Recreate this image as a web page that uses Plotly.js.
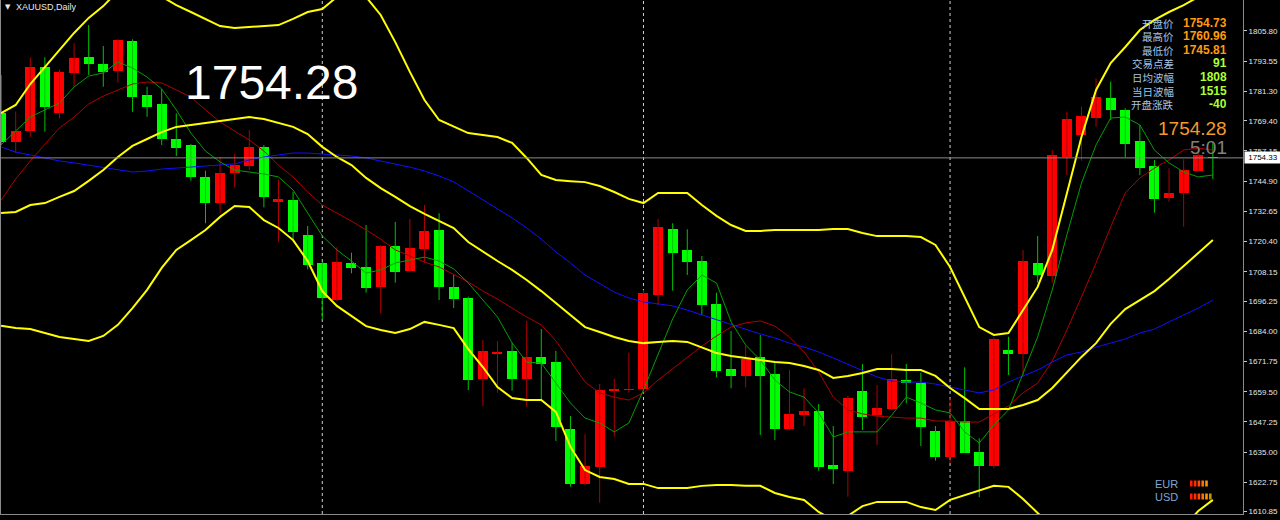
<!DOCTYPE html>
<html><head><meta charset="utf-8">
<script src="https://cdn.plot.ly/plotly-3.0.1.min.js"></script>
<style>html,body{margin:0;padding:0;background:#000;overflow:hidden}#chart{width:1280px;height:520px}</style>
</head><body><div id="chart"></div>
<script>
// ---- daily OHLC (XAUUSD) ----
const open = [1772.54,1760.90,1765.24,1791.32,1772.66,1788.88,1795.13,1792.41,1789.57,1801.74,
1779.84,1776.19,1761.87,1759.56,1746.70,1735.91,1748.08,1751.16,1758.87,1736.32,
1737.25,1723.05,1711.58,1696.69,1711.82,1709.95,1701.96,1718.59,1708.57,1717.38,
1725.08,1701.84,1697.50,1664.53,1674.91,1675.88,1664.53,1673.45,1671.54,1644.49,
1622.06,1629.08,1659.78,1660.19,1660.47,1698.84,1725.37,1716.97,1712.51,1695.07,
1668.58,1665.99,1673.45,1666.68,1644.25,1650.05,1651.79,1629.77,1627.45,1659.78,
1650.05,1652.60,1664.24,1663.15,1643.68,1632.89,1647.73,1635.16,1629.36,1676.41,
1674.79,1711.82,1706.42,1754.57,1763.61,1770.39,1778.74,1773.75,1761.18,1751.04,
1737.94,1740.21,1749.13,1754.73];
const high = [1787.95,1773.06,1795.13,1795.13,1790.26,1800.81,1808.23,1799.71,1802.43,1802.43,
1783.20,1782.15,1772.42,1760.00,1749.13,1754.81,1755.91,1765.64,1759.56,1745.65,
1740.62,1726.70,1712.10,1718.07,1715.87,1727.11,1718.90,1728.33,1729.54,1735.22,
1731.86,1706.83,1698.03,1680.47,1680.06,1679.37,1688.17,1684.93,1676.00,1649.64,
1642.22,1662.62,1664.77,1675.31,1700.75,1729.54,1727.80,1725.37,1714.54,1699.65,
1684.12,1678.03,1682.49,1671.02,1668.30,1660.88,1654.51,1645.58,1657.75,1670.73,
1662.21,1674.79,1670.73,1667.20,1645.58,1656.82,1669.39,1640.60,1681.56,1681.80,
1716.97,1722.65,1757.53,1773.06,1775.09,1786.61,1785.23,1774.44,1767.67,1753.47,
1750.11,1753.76,1758.63,1760.96];
const low = [1759.56,1756.31,1762.92,1764.95,1770.39,1783.20,1787.95,1783.20,1784.83,1773.06,
1771.04,1759.56,1755.10,1745.08,1727.80,1731.86,1742.40,1749.42,1734.29,1720.34,
1721.03,1709.14,1688.58,1696.28,1707.52,1699.65,1691.30,1703.71,1708.25,1711.82,
1696.69,1693.45,1660.19,1653.70,1659.09,1659.90,1653.41,1656.13,1639.50,1620.96,
1621.65,1614.47,1641.24,1659.09,1659.37,1694.66,1700.46,1706.83,1690.61,1665.34,
1660.88,1661.28,1641.93,1639.91,1643.96,1645.58,1627.45,1622.06,1616.91,1643.96,
1637.88,1652.28,1654.79,1637.47,1631.51,1630.46,1634.51,1616.67,1628.43,1666.27,
1665.58,1703.71,1703.71,1747.39,1753.19,1766.98,1769.70,1754.57,1747.39,1732.10,
1736.56,1726.42,1748.73,1745.81];
const close = [1760.77,1765.36,1791.32,1775.09,1789.29,1794.72,1792.29,1789.29,1802.15,1779.15,
1775.09,1761.87,1758.22,1746.70,1735.91,1748.08,1751.45,1758.87,1738.35,1737.66,
1724.39,1710.89,1697.62,1712.10,1709.79,1701.68,1718.59,1708.17,1717.78,1724.80,
1701.96,1697.22,1664.24,1675.88,1675.60,1664.53,1673.57,1670.73,1645.06,1622.06,
1629.36,1660.19,1660.47,1660.59,1699.41,1726.18,1715.87,1712.22,1694.54,1668.01,
1665.99,1672.64,1665.99,1644.25,1650.45,1651.79,1628.83,1628.02,1657.06,1649.11,
1653.01,1664.53,1663.15,1645.06,1633.13,1647.73,1634.75,1629.36,1680.75,1674.79,
1712.51,1706.83,1755.50,1769.98,1771.32,1778.91,1773.75,1759.96,1750.11,1737.53,
1739.97,1749.42,1755.50,1754.28];

// ---- indicators ----
const bbUpper = [1772.5,1775.8,1784.3,1791.2,1798.1,1805.0,1811.1,1815.9,1822.0,1824.9,
1823.2,1819.6,1816.3,1813.5,1810.7,1807.8,1807.0,1807.4,1807.8,1808.2,
1810.7,1813.5,1814.7,1819.6,1820.8,1819.6,1812.3,1801.3,1789.2,1777.8,
1769.7,1766.9,1764.4,1763.6,1762.8,1760.4,1754.3,1747.4,1745.4,1744.9,
1744.5,1742.9,1740.5,1737.7,1736.0,1740.1,1740.1,1740.1,1735.2,1730.8,
1727.1,1724.7,1724.7,1725.1,1725.1,1725.1,1725.1,1725.5,1725.5,1723.9,
1722.6,1722.6,1722.6,1722.2,1719.0,1710.1,1697.9,1685.7,1682.5,1683.3,
1692.6,1702.0,1717.0,1739.7,1762.8,1781.9,1792.8,1799.3,1806.2,1810.3,
1813.5,1816.3,1819.6,1825.7];
const bbMid = [1732.0,1732.4,1735.2,1736.0,1738.5,1740.9,1745.0,1749.4,1754.7,1759.2,
1762.0,1764.8,1766.9,1767.7,1768.5,1769.3,1770.1,1770.9,1770.1,1768.5,
1766.9,1764.0,1758.8,1754.7,1751.4,1746.2,1742.1,1738.5,1734.8,1731.6,
1728.7,1725.9,1720.2,1716.2,1712.5,1708.9,1704.8,1700.3,1695.5,1690.6,
1685.7,1683.7,1681.7,1680.1,1679.2,1679.7,1680.1,1679.7,1677.6,1675.2,
1674.0,1673.2,1672.4,1671.5,1671.1,1669.9,1668.3,1665.1,1665.9,1667.1,
1668.7,1668.7,1668.3,1668.3,1665.9,1661.0,1656.9,1652.5,1652.5,1652.5,
1654.1,1656.1,1661.0,1667.1,1673.6,1679.2,1687.0,1693.0,1696.7,1700.3,
1705.2,1710.5,1715.8,1721.0];
const bbLower = [1686.2,1685.3,1684.9,1683.3,1681.7,1680.9,1680.1,1682.1,1686.6,1693.4,
1700.8,1709.7,1717.0,1721.0,1725.1,1730.4,1734.8,1734.4,1729.1,1725.9,
1721.0,1712.5,1700.3,1694.3,1690.2,1686.1,1684.5,1683.3,1684.9,1687.8,
1686.6,1685.3,1676.8,1669.5,1661.4,1656.9,1656.1,1656.1,1651.3,1637.1,
1627.7,1624.9,1624.1,1622.1,1622.1,1620.4,1620.4,1620.4,1621.3,1621.7,
1621.7,1621.3,1621.3,1618.4,1616.8,1615.6,1610.7,1607.5,1609.1,1613.1,
1614.8,1614.8,1614.8,1612.7,1611.5,1615.6,1617.6,1619.6,1621.3,1620.9,
1616.0,1610.3,1605.0,1594.5,1584.3,1576.6,1581.1,1586.8,1587.2,1590.4,
1596.9,1604.6,1611.1,1615.6];
const maFast = [1759.6,1765.2,1770.9,1773.8,1776.6,1783.1,1787.5,1788.8,1793.2,1790.8,
1787.1,1782.3,1773.8,1764.4,1757.1,1752.7,1749.4,1748.6,1747.8,1746.6,
1741.3,1732.0,1722.7,1717.0,1712.5,1707.6,1708.9,1711.7,1712.9,1714.1,
1712.5,1709.3,1703.6,1696.7,1689.8,1679.3,1671.5,1671.1,1663.0,1654.9,
1648.8,1646.8,1643.2,1646.8,1660.2,1674.4,1689.0,1700.8,1706.8,1703.6,
1687.8,1678.4,1672.4,1664.2,1659.4,1657.3,1650.9,1641.1,1643.2,1643.2,
1643.2,1650.0,1657.3,1654.9,1652.1,1650.9,1643.2,1638.7,1646.0,1652.1,
1667.1,1681.7,1700.8,1723.1,1744.1,1759.6,1770.5,1770.9,1767.7,1757.5,
1752.3,1748.6,1746.6,1747.4];
const maMid = [1737.2,1745.8,1753.1,1759.6,1766.5,1770.9,1776.2,1779.4,1781.9,1784.3,
1785.1,1784.7,1781.9,1779.0,1773.8,1768.9,1765.2,1761.6,1757.1,1751.4,
1746.6,1740.5,1735.2,1732.0,1728.7,1725.1,1721.4,1717.0,1714.5,1712.1,
1710.1,1707.2,1704.0,1700.3,1697.1,1693.4,1689.8,1686.6,1680.1,1671.9,
1663.4,1659.0,1657.3,1656.1,1659.0,1664.2,1668.7,1673.2,1678.0,1682.1,
1685.7,1687.4,1688.2,1686.1,1681.7,1675.6,1667.5,1657.3,1652.1,1650.5,
1649.6,1649.2,1648.8,1648.8,1647.6,1647.6,1647.2,1647.2,1650.5,1653.7,
1659.0,1663.0,1671.9,1684.5,1697.9,1711.7,1726.3,1740.1,1746.2,1750.2,
1753.5,1757.5,1758.3,1757.5];
const maSlow = [1758.8,1756.7,1755.5,1754.3,1753.1,1752.3,1751.4,1750.2,1749.4,1748.6,
1749.0,1749.8,1750.2,1750.6,1751.0,1751.4,1751.9,1753.5,1754.7,1755.5,
1756.3,1756.3,1755.9,1755.5,1755.1,1754.3,1753.1,1751.9,1750.6,1749.0,
1747.0,1744.6,1740.9,1737.3,1733.6,1730.0,1725.9,1721.4,1716.2,1711.7,
1706.8,1703.2,1699.9,1697.5,1695.9,1695.1,1694.3,1692.6,1690.6,1688.6,
1686.6,1684.9,1682.9,1681.3,1679.2,1677.6,1675.6,1673.2,1670.7,1668.3,
1665.5,1663.8,1663.4,1663.4,1662.6,1661.4,1660.2,1659.0,1660.2,1663.4,
1665.9,1668.3,1671.5,1674.4,1675.6,1677.6,1679.2,1680.9,1683.3,1684.9,
1687.8,1690.6,1693.4,1696.7];

const monthStartIdx = [22, 44, 65];
const priceTicks = [1805.80,1793.55,1781.30,1769.40,1757.15,1744.90,1732.65,1720.40,1708.15,1696.25,1684.00,1671.75,1659.50,1647.25,1635.00,1622.75,1610.85];
const bidPrice = 1754.33;
const lastPrice = '1754.28';
const timerText = '5:01';
const symbolTitle = 'XAUUSD,Daily';
const infoLabels = ['开盘价','最高价','最低价','交易点差','日均波幅','当日波幅','开盘涨跌'];
const infoValues = ['1754.73','1760.96','1745.81','91','1808','1515','-40'];
const strengthLabels = ['EUR','USD'];
const strengthBars = [5, 6];

// ---- build ----
const n = open.length;
const xs = Array.from({length:n}, (_, i) => i);
const upWx=[], upWy=[], dnWx=[], dnWy=[];
const upX=[], upB=[], upH=[], dnX=[], dnB=[], dnH=[];
const minBody = 0.6;
for (let i=0;i<n;i++){
  const up = close[i] >= open[i];
  const lo = Math.min(open[i], close[i]);
  const h = Math.max(Math.abs(close[i]-open[i]), minBody);
  const b = Math.abs(close[i]-open[i]) < minBody ? (open[i]+close[i])/2 - minBody/2 : lo;
  if (up){ upWx.push(i,i,null); upWy.push(low[i],high[i],null); upX.push(i); upB.push(b); upH.push(h); }
  else { dnWx.push(i,i,null); dnWy.push(low[i],high[i],null); dnX.push(i); dnB.push(b); dnH.push(h); }
}
const bw = 0.685;
const traces = [
  {type:'scatter', mode:'lines', x:upWx, y:upWy, line:{color:'#b00000', width:1}, hoverinfo:'skip'},
  {type:'scatter', mode:'lines', x:dnWx, y:dnWy, line:{color:'#00c400', width:1}, hoverinfo:'skip'},
  {type:'bar', x:upX, y:upH, base:upB, width:bw, marker:{color:'#ff0000', line:{width:0}}, hoverinfo:'skip'},
  {type:'bar', x:dnX, y:dnH, base:dnB, width:bw, marker:{color:'#00ff00', line:{width:0}}, hoverinfo:'skip'},
  {type:'scatter', mode:'lines', x:xs, y:maSlow, line:{color:'#1010ff', width:1}, hoverinfo:'skip'},
  {type:'scatter', mode:'lines', x:xs, y:maMid, line:{color:'#b00000', width:1}, hoverinfo:'skip'},
  {type:'scatter', mode:'lines', x:xs, y:maFast, line:{color:'#00a000', width:1}, hoverinfo:'skip'},
  {type:'scatter', mode:'lines', x:xs, y:bbUpper, line:{color:'#ffff00', width:2}, hoverinfo:'skip'},
  {type:'scatter', mode:'lines', x:xs, y:bbMid, line:{color:'#ffff00', width:2}, hoverinfo:'skip'},
  {type:'scatter', mode:'lines', x:xs, y:bbLower, line:{color:'#ffff00', width:2}, hoverinfo:'skip'}
];

const PW = 1243, PH = 514;
const px = v => v/PW, py = v => 1 - v/PH;
const shapes = [];
monthStartIdx.forEach(i => shapes.push({type:'line', xref:'x', yref:'paper', x0:i, x1:i, y0:0, y1:1, layer:'below', line:{color:'#d0d0d0', width:1, dash:'3px,3px'}}));
shapes.push({type:'line', xref:'paper', yref:'y', x0:0, x1:1, y0:bidPrice, y1:bidPrice, line:{color:'#8a8a8a', width:1}});
shapes.push({type:'line', xref:'paper', yref:'paper', x0:px(0.5), x1:px(0.5), y0:0, y1:1, line:{color:'#8a8a8a', width:1}});
const barCols = [['#ff1e00','#ff2e00','#ff4a00','#ff7000','#ff9000'],['#ff1e00','#ff2e00','#ff4a00','#ff7000','#ff9000','#c89000']];
strengthBars.forEach((cnt, r) => {
  const yTop = r===0 ? 480.5 : 493.5;
  for (let k=0;k<cnt;k++){
    const x0 = 1190 + k*3.8;
    shapes.push({type:'rect', xref:'paper', yref:'paper', x0:px(x0), x1:px(x0+2.6), y0:py(yTop+6), y1:py(yTop), line:{width:0}, fillcolor:barCols[r][k]});
  }
});

const annotations = [];
const A = (text, x, y, o) => annotations.push(Object.assign({text, xref:'paper', yref:'paper', x:px(x), y:py(y), showarrow:false}, o));
A('▼', 8, 7, {font:{family:'DejaVu Sans', size:7, color:'#e8e8e8'}, xanchor:'center', yanchor:'middle'});
A(symbolTitle, 14, 7.5, {font:{family:'Liberation Sans, Arial', size:9, color:'#e8e8e8'}, xanchor:'left', yanchor:'middle'});
A(lastPrice, 183, 83, {font:{family:'Liberation Sans, Arial', size:48, color:'#ffffff'}, xanchor:'left', yanchor:'middle'});
const rowY = [22.7, 36.5, 50, 63.2, 77, 90.5, 104];
infoLabels.forEach((t, k) => {
  A(t, 1176, rowY[k], {font:{family:'Noto Sans CJK SC', size:10.5, color:'#a3c4e6'}, xanchor:'right', yanchor:'middle', height:12});
  A('<b>'+infoValues[k]+'</b>', 1229, rowY[k], {font:{family:'Liberation Sans, Arial', size:12, color: k<3 ? '#ff9a10' : '#adff2f'}, xanchor:'right', yanchor:'middle', height:12});
});
A(lastPrice, 1229, 128, {font:{family:'Liberation Sans, Arial', size:19, color:'#f39a2a'}, xanchor:'right', yanchor:'middle', height:18});
A(timerText, 1229, 147, {font:{family:'Liberation Sans, Arial', size:19, color:'#808080'}, xanchor:'right', yanchor:'middle', height:18});
strengthLabels.forEach((t, r) => A(t, 1153, r===0 ? 483.5 : 497, {font:{family:'Liberation Sans, Arial', size:11, color:'#7fa8d2'}, xanchor:'left', yanchor:'middle', height:12}));
annotations.push({text:bidPrice.toFixed(2), xref:'paper', yref:'y', x:1, y:bidPrice, xshift:1, xanchor:'left', yanchor:'middle', showarrow:false,
  bgcolor:'#ffffff', borderpad:1, font:{family:'Liberation Sans, Arial', size:8, color:'#000000'}, width:34, align:'center'});

const layout = {
  width:1280, height:520, paper_bgcolor:'#000000', plot_bgcolor:'#000000',
  margin:{l:0, r:37, t:0, b:6}, showlegend:false, barmode:'overlay', bargap:0,
  xaxis:{range:[-0.075, 85.065], showgrid:false, zeroline:false, showticklabels:false, ticks:'', showline:true, linecolor:'#8a8a8a', linewidth:1, fixedrange:true},
  yaxis:{range:[1609.89, 1818.37], side:'right', showgrid:false, zeroline:false, tickvals:priceTicks, ticktext:priceTicks.map(v=>v.toFixed(2)),
    ticks:'outside', ticklen:3, tickcolor:'#c8c8c8', tickfont:{family:'Liberation Sans, Arial', size:8, color:'#e6e6e6'},
    showline:true, linecolor:'#8a8a8a', linewidth:1, fixedrange:true},
  shapes, annotations
};
Plotly.newPlot('chart', traces, layout, {displayModeBar:false, staticPlot:true});
</script></body></html>
